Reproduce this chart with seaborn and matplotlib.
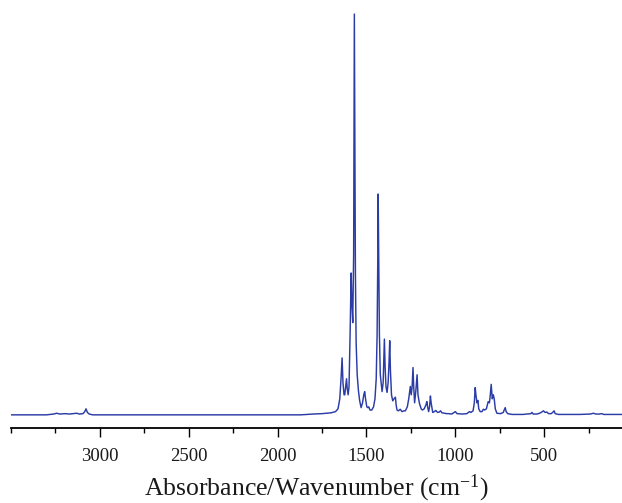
import matplotlib
matplotlib.use("Agg")
import matplotlib.pyplot as plt
import seaborn as sns
import pandas as pd
from matplotlib.ticker import MultipleLocator

# Spectrum: wavenumber (cm-1) and absorbance (arbitrary, max = 1)
wavenumber = [
    3500, 3300, 3260, 3243, 3225, 3197, 3170, 3150, 3131, 3115, 3095, 3085, 3078, 3070, 3060, 3040,
    1950, 1870, 1800, 1750, 1700, 1674, 1660, 1650, 1643, 1637, 1632, 1626, 1622, 1617, 1612, 1608,
    1603, 1598, 1592, 1586, 1582, 1577, 1572, 1568, 1565, 1562, 1558, 1552, 1545, 1538, 1530, 1522,
    1515, 1510, 1505, 1498, 1492, 1487, 1480, 1470, 1460, 1452, 1445, 1440, 1436, 1434, 1431, 1427,
    1422, 1412, 1406, 1402, 1399, 1395, 1390, 1384, 1378, 1373, 1369, 1365, 1359, 1352, 1345, 1337,
    1333, 1328, 1320, 1310, 1300, 1290, 1281, 1270, 1262, 1253, 1248, 1243, 1238, 1234, 1229, 1222,
    1215, 1210, 1202, 1192, 1185, 1175, 1165, 1160, 1155, 1150, 1145, 1140, 1136, 1127, 1118, 1110,
    1100, 1090, 1083, 1075, 1060, 1050, 1038, 1020, 1000, 990, 960, 935, 920, 912, 900, 893,
    888, 884, 878, 873, 868, 860, 850, 842, 835, 825, 815, 808, 803, 798, 792, 786,
    781, 775, 766, 745, 730, 725, 719, 714, 705, 680, 620, 600, 575, 569, 562, 540,
    520, 504, 495, 485, 475, 460, 450, 444, 438, 420, 300, 240, 223, 210, 190, 176,
    165, 62,
]
absorbance = [
    0.0, 0.0, 0.002, 0.004, 0.002, 0.003, 0.002, 0.003, 0.004, 0.002, 0.003, 0.008, 0.015, 0.006, 0.002, 0.0,
    0.0, 0.0, 0.002, 0.003, 0.005, 0.008, 0.015, 0.04, 0.09, 0.142, 0.08, 0.05, 0.05, 0.07, 0.09, 0.065,
    0.05, 0.07, 0.2, 0.354, 0.28, 0.23, 0.4, 1.0, 0.7, 0.35, 0.18, 0.1, 0.06, 0.035, 0.018, 0.03,
    0.05, 0.058, 0.04, 0.02, 0.018, 0.02, 0.012, 0.012, 0.02, 0.04, 0.09, 0.2, 0.4, 0.551, 0.4, 0.2,
    0.1, 0.058, 0.08, 0.14, 0.189, 0.12, 0.07, 0.056, 0.08, 0.13, 0.185, 0.11, 0.05, 0.035, 0.04, 0.044,
    0.025, 0.012, 0.01, 0.014, 0.008, 0.01, 0.01, 0.02, 0.04, 0.071, 0.05, 0.07, 0.118, 0.07, 0.03, 0.06,
    0.1, 0.05, 0.029, 0.015, 0.012, 0.015, 0.025, 0.033, 0.018, 0.008, 0.02, 0.047, 0.03, 0.006, 0.008, 0.011,
    0.006, 0.007, 0.01, 0.005, 0.004, 0.003, 0.003, 0.002, 0.008, 0.003, 0.002, 0.003, 0.008, 0.006, 0.01, 0.03,
    0.068, 0.05, 0.03, 0.036, 0.015, 0.008, 0.008, 0.014, 0.012, 0.015, 0.033, 0.03, 0.05, 0.076, 0.04, 0.05,
    0.04, 0.015, 0.004, 0.003, 0.006, 0.012, 0.018, 0.008, 0.003, 0.001, 0.001, 0.002, 0.003, 0.006, 0.002, 0.002,
    0.005, 0.01, 0.006, 0.007, 0.003, 0.003, 0.007, 0.01, 0.003, 0.001, 0.001, 0.002, 0.004, 0.002, 0.002, 0.003,
    0.001, 0.001,
]
major_ticks = [3000, 2500, 2000, 1500, 1000, 500]
tick_labels = ["3000", "2500", "2000", "1500", "1000", "500"]
x_label = "Absorbance/Wavenumber (cm$^{\\mathrm{-1}}$)"

sns.set_theme(style="ticks")
plt.rcParams["font.family"] = ["Liberation Serif", "DejaVu Serif"]
plt.rcParams["mathtext.fontset"] = "custom"
plt.rcParams["mathtext.rm"] = "Liberation Serif"
plt.rcParams["mathtext.it"] = "Liberation Serif:italic"

df = pd.DataFrame({"wavenumber": wavenumber, "absorbance": absorbance})

fig = plt.figure(figsize=(6.22, 5.03), dpi=100)
ax = fig.add_axes([11 / 622, 0.15, 1 - 11 / 622, 0.83])
sns.lineplot(data=df, x="wavenumber", y="absorbance", ax=ax, color="#2b3ca6",
             linewidth=1.05, sort=False, estimator=None)

ax.set_xlim(3500, 62)
ax.set_ylim(-0.0317, 1.01)
ax.set_xticks(major_ticks)
ax.set_xticklabels(tick_labels)
ax.xaxis.set_minor_locator(MultipleLocator(250))
ax.tick_params(axis="x", which="major", direction="out", length=6.5, width=1.0,
               labelsize=13.5, pad=8, color="black", labelcolor="#1a1a1a")
ax.tick_params(axis="x", which="minor", direction="out", length=3.5, width=1.0, color="black")
ax.set_yticks([])
ax.set_ylabel("")
ax.set_xlabel(x_label, fontsize=18.5, labelpad=5.5, color="#1a1a1a")
for side in ["left", "top", "right"]:
    ax.spines[side].set_visible(False)
ax.spines["bottom"].set_linewidth(1.3)
ax.spines["bottom"].set_color("black")

fig.savefig("out.png", dpi=100)
